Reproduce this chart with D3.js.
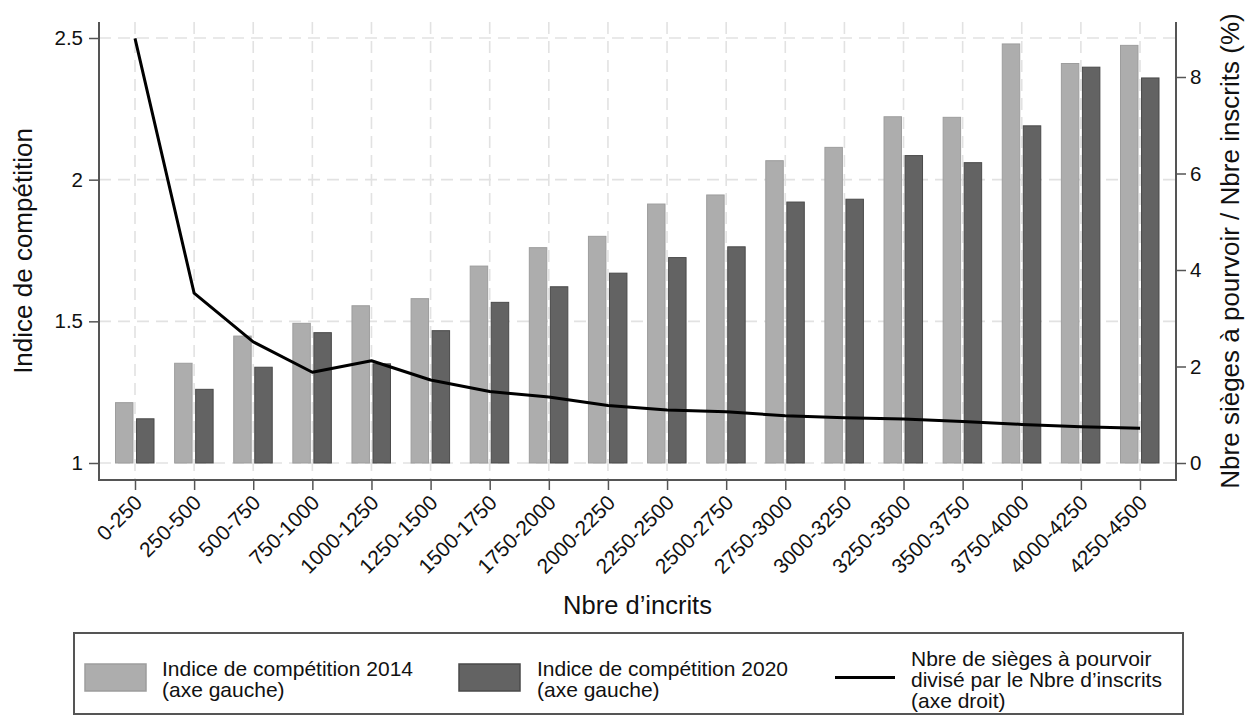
<!DOCTYPE html>
<html>
<head>
<meta charset="utf-8">
<script src="https://cdn.jsdelivr.net/npm/d3@7"></script>
<style>
  html, body { margin: 0; padding: 0; background: #fff; }
  svg { display: block; font-family: Arial, "Liberation Sans", Helvetica, sans-serif; }
</style>
</head>
<body>
<svg id="chart" width="1249" height="715"></svg>
<script>
const categories = ["0-250","250-500","500-750","750-1000","1000-1250","1250-1500","1500-1750","1750-2000","2000-2250","2250-2500","2500-2750","2750-3000","3000-3250","3250-3500","3500-3750","3750-4000","4000-4250","4250-4500"];
const indice2014 = [1.213, 1.352, 1.448, 1.493, 1.555, 1.580, 1.695, 1.760, 1.800, 1.914, 1.946, 2.067, 2.114, 2.222, 2.220, 2.479, 2.410, 2.474];
const indice2020 = [1.156, 1.260, 1.338, 1.460, 1.350, 1.467, 1.567, 1.622, 1.670, 1.725, 1.763, 1.921, 1.931, 2.085, 2.060, 2.190, 2.397, 2.359];
const ratioSieges = [8.80, 3.52, 2.51, 1.88, 2.12, 1.72, 1.48, 1.37, 1.19, 1.10, 1.06, 0.98, 0.94, 0.91, 0.86, 0.80, 0.75, 0.72];
const leftTicks = [1, 1.5, 2, 2.5];
const rightTicks = [0, 2, 4, 6, 8];
const seriesNames = ["2014", "2020"];

const svg = d3.select("#chart");
const plot = { left: 99, right: 1176, top: 22, bottom: 480 };

const x = d3.scalePoint().domain(categories).range([135, 1140]);
const xs = d3.scaleBand().domain(seriesNames).range([-19.5, 19]).paddingInner(0.17);
const yL = d3.scaleLinear().domain([1, 2.5]).range([463, 38]);
const yR = d3.scaleLinear().domain([0, 8]).range([463, 77]);

const gridColor = "#e2e2e2";
const axisColor = "#555";
const textColor = "#111";

// grid
const grid = svg.append("g");
grid.selectAll("line.h").data(leftTicks).join("line")
  .attr("x1", plot.left).attr("x2", plot.right)
  .attr("y1", d => yL(d)).attr("y2", d => yL(d))
  .attr("stroke", gridColor).attr("stroke-width", 1.6).attr("stroke-dasharray", "12,7");
grid.selectAll("line.v").data(categories).join("line")
  .attr("x1", d => x(d)).attr("x2", d => x(d))
  .attr("y1", plot.top).attr("y2", plot.bottom)
  .attr("stroke", gridColor).attr("stroke-width", 1.6).attr("stroke-dasharray", "12,7");

// bars
const fills = { "2014": "#adadad", "2020": "#636363" };
const strokes = { "2014": "#9d9d9d", "2020": "#4a4a4a" };
const barData = [];
categories.forEach((c, i) => {
  barData.push({ cat: c, s: "2014", v: indice2014[i] });
  barData.push({ cat: c, s: "2020", v: indice2020[i] });
});
svg.append("g").selectAll("rect").data(barData).join("rect")
  .attr("x", d => x(d.cat) + xs(d.s))
  .attr("width", xs.bandwidth())
  .attr("y", d => yL(d.v))
  .attr("height", d => yL(1) - yL(d.v))
  .attr("fill", d => fills[d.s])
  .attr("stroke", d => strokes[d.s])
  .attr("stroke-width", 1);

// line
const line = d3.line().x((d, i) => x(categories[i])).y(d => yR(d));
svg.append("path").datum(ratioSieges)
  .attr("d", line)
  .attr("fill", "none").attr("stroke", "#000").attr("stroke-width", 3)
  .attr("stroke-linejoin", "round");

// axes
function styleAxis(g) {
  g.select(".domain").remove();
  g.selectAll(".tick line").attr("stroke", axisColor).attr("stroke-width", 1.5);
  g.selectAll(".tick text").attr("fill", textColor).style("font-size", "20.5px");
}
const gL = svg.append("g").attr("transform", `translate(${plot.left},0)`)
  .call(d3.axisLeft(yL).tickValues(leftTicks).tickSize(10).tickPadding(6).tickFormat(d3.format("")));
styleAxis(gL);
const gR = svg.append("g").attr("transform", `translate(${plot.right},0)`)
  .call(d3.axisRight(yR).tickValues(rightTicks).tickSize(10).tickPadding(4).tickFormat(d3.format("")));
styleAxis(gR);
const gB = svg.append("g").attr("transform", `translate(0,${plot.bottom})`)
  .call(d3.axisBottom(x).tickSize(10).tickPadding(4));
styleAxis(gB);
gB.selectAll(".tick text")
  .attr("text-anchor", "end")
  .attr("dy", null).attr("y", null)
  .attr("transform", "translate(8,24) rotate(-45)")
  .style("font-size", "21px");

// axis lines (frame)
svg.append("path")
  .attr("d", `M${plot.left},${plot.top}V${plot.bottom}H${plot.right}V${plot.top}`)
  .attr("fill", "none").attr("stroke", axisColor).attr("stroke-width", 2);

// axis titles
svg.append("text").attr("transform", `translate(32,${(plot.top + plot.bottom) / 2}) rotate(-90)`)
  .attr("text-anchor", "middle").attr("fill", textColor).style("font-size", "26px")
  .text("Indice de compétition");
svg.append("text").attr("transform", `translate(1239,${(plot.top + plot.bottom) / 2}) rotate(-90)`)
  .attr("text-anchor", "middle").attr("fill", textColor).style("font-size", "26px")
  .text("Nbre sièges à pourvoir / Nbre inscrits (%)");
svg.append("text").attr("x", (plot.left + plot.right) / 2).attr("y", 614)
  .attr("text-anchor", "middle").attr("fill", textColor).style("font-size", "25.5px")
  .text("Nbre d’incrits");

// legend
const lg = svg.append("g");
lg.append("rect").attr("x", 74).attr("y", 633).attr("width", 1109).attr("height", 81)
  .attr("fill", "#fff").attr("stroke", axisColor).attr("stroke-width", 2);
const legendItems = [
  { type: "rect", s: "2014", kx: 85, tx: 162, lines: ["Indice de compétition 2014", "(axe gauche)"], base: 675.5 },
  { type: "rect", s: "2020", kx: 459, tx: 537, lines: ["Indice de compétition 2020", "(axe gauche)"], base: 675.5 },
  { type: "line", kx: 835, tx: 911, lines: ["Nbre de sièges à pourvoir", "divisé par le Nbre d’inscrits", "(axe droit)"], base: 666 }
];
legendItems.forEach(it => {
  if (it.type === "rect") {
    lg.append("rect").attr("x", it.kx).attr("y", 664).attr("width", 61).attr("height", 27)
      .attr("fill", fills[it.s]).attr("stroke", strokes[it.s]).attr("stroke-width", 1.5);
  } else {
    lg.append("line").attr("x1", it.kx).attr("x2", it.kx + 60).attr("y1", 677.5).attr("y2", 677.5)
      .attr("stroke", "#000").attr("stroke-width", 3);
  }
  const t = lg.append("text").attr("fill", textColor).style("font-size", "21px");
  it.lines.forEach((ln, j) => {
    t.append("tspan").attr("x", it.tx).attr("y", it.base + j * 21).text(ln);
  });
});
</script>
</body>
</html>
